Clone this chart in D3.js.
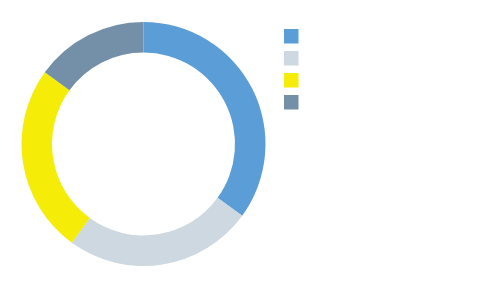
<!DOCTYPE html>
<html>
<head>
<meta charset="utf-8">
<script src="https://cdn.jsdelivr.net/npm/d3@7"></script>
<style>
  body { margin: 0; background: #fff; }
</style>
</head>
<body>
<div id="chart"></div>
<script>
// slices, clockwise from 12 o'clock
const categories = ["A", "B", "C", "D"];
const values = [35, 25, 25, 15];
const colors = ["#5b9dd6", "#cdd8e1", "#f5ec07", "#7490a9"];

const width = 480, height = 290;
const cx = 143.5, cy = 144;
const outerR = 122, innerR = 91.5;

const svg = d3.select("#chart")
    .append("svg")
    .attr("width", width)
    .attr("height", height);

const color = d3.scaleOrdinal()
    .domain(categories)
    .range(colors);

const pie = d3.pie()
    .sort(null)
    .value((d, i) => values[i]);

const arc = d3.arc()
    .innerRadius(innerR)
    .outerRadius(outerR);

svg.append("g")
    .attr("transform", "translate(" + cx + "," + cy + ")")
    .selectAll("path")
    .data(pie(categories))
    .enter()
    .append("path")
    .attr("d", arc)
    .style("fill", d => color(d.data));

// legend, swatches only
const legend = svg.append("g")
    .attr("transform", "translate(284,29)");

legend.selectAll("rect")
    .data(categories)
    .enter()
    .append("rect")
    .attr("x", 0)
    .attr("y", (d, i) => i * 22)
    .attr("width", 14.5)
    .attr("height", 14.5)
    .style("fill", d => color(d));
</script>
</body>
</html>
